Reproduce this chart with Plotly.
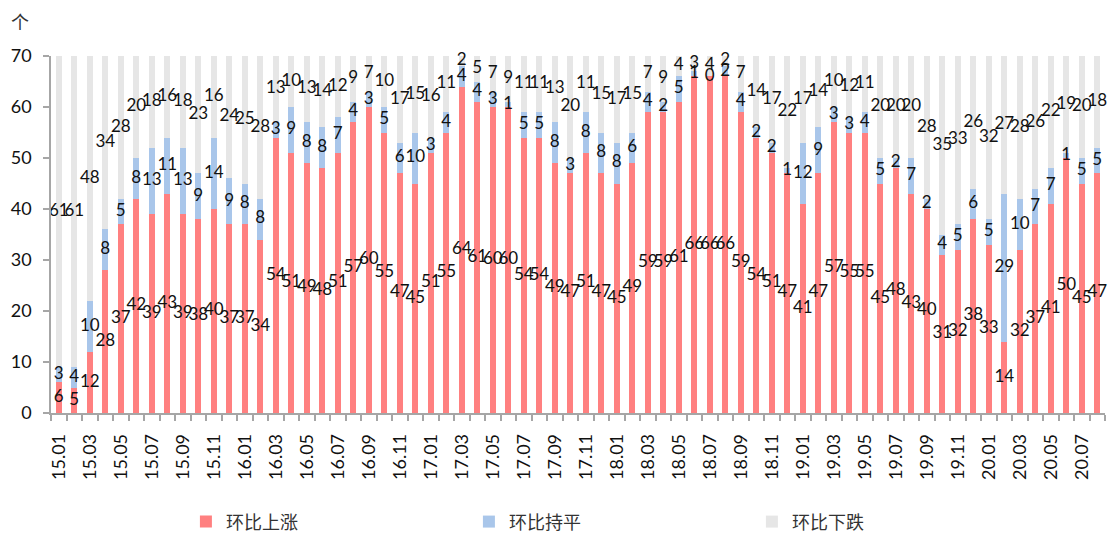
import numpy as np
import plotly.graph_objects as go

months = [f"{y}.{m:02d}" for y in range(15, 21) for m in range(1, 13)][:68]

up = [6, 5, 12, 28, 37, 42, 39, 43, 39, 38, 40, 37,
      37, 34, 54, 51, 49, 48, 51, 57, 60, 55, 47, 45,
      51, 55, 64, 61, 60, 60, 54, 54, 49, 47, 51, 47,
      45, 49, 59, 59, 61, 66, 66, 66, 59, 54, 51, 47,
      41, 47, 57, 55, 55, 45, 48, 43, 40, 31, 32, 38,
      33, 14, 32, 37, 41, 50, 45, 47]
flat = [3, 4, 10, 8, 5, 8, 13, 11, 13, 9, 14, 9,
        8, 8, 3, 9, 8, 8, 7, 4, 3, 5, 6, 10,
        3, 4, 4, 4, 3, 1, 5, 5, 8, 3, 8, 8,
        8, 6, 4, 2, 5, 1, 0, 2, 4, 2, 2, 1,
        12, 9, 3, 3, 4, 5, 2, 7, 2, 4, 5, 6,
        5, 29, 10, 7, 7, 1, 5, 5]
down = [61, 61, 48, 34, 28, 20, 18, 16, 18, 23, 16, 24,
        25, 28, 13, 10, 13, 14, 12, 9, 7, 10, 17, 15,
        16, 11, 2, 5, 7, 9, 11, 11, 13, 20, 11, 15,
        17, 15, 7, 9, 4, 3, 4, 2, 7, 14, 17, 22,
        17, 14, 10, 12, 11, 20, 20, 20, 28, 35, 33, 26,
        32, 27, 28, 26, 22, 19, 20, 18]

series_names = ["环比上涨", "环比持平", "环比下跌"]
colors = ["#FF8080", "#A9C6EA", "#E6E6E6"]

x = np.arange(len(months))
vals = [np.array(up), np.array(flat), np.array(down)]

font_family = "Lato, Noto Sans CJK SC, sans-serif"
fig = go.Figure()
for name, v, c in zip(series_names, vals, colors):
    fig.add_trace(go.Bar(x=x, y=v, name=name, marker=dict(color=c, line=dict(width=0)),
                         hoverinfo="skip"))

base = np.zeros(len(months))
for v in vals:
    mid = base + v / 2
    fig.add_trace(go.Scatter(x=x, y=mid, mode="text", text=[str(i) for i in v],
                             textposition="middle center",
                             textfont=dict(size=17, color="#111111", family=font_family),
                             showlegend=False, hoverinfo="skip", cliponaxis=False))
    base = base + v

fig.update_layout(
    barmode="stack",
    bargap=0.6,
    width=1109, height=533,
    margin=dict(l=51, r=4, t=56, b=120, autoexpand=False),
    plot_bgcolor="white", paper_bgcolor="white",
    font=dict(family=font_family, size=18, color="#222222"),
    legend=dict(orientation="h", x=0.128, xanchor="left", y=-0.305, yanchor="middle",
                font=dict(size=18, color="#333333"), entrywidth=238, traceorder="normal",
                itemwidth=30, bgcolor="rgba(0,0,0,0)"),
    annotations=[dict(text="个", xref="paper", yref="paper", x=-0.04, y=1.059,
                      xanchor="left", yanchor="bottom", showarrow=False,
                      font=dict(size=18, color="#333333"))],
)
fig.update_xaxes(
    range=[-0.5, len(months) - 0.5],
    tickmode="array", tickvals=x[::2], ticktext=months[::2],
    tickangle=-90, ticks="", showgrid=False, zeroline=False,
    showline=True, linecolor="#A6A6A6", linewidth=1.5,
    tickfont=dict(size=18, color="#111111"),
    ticklabelstandoff=12, automargin=False,
    minor=dict(ticks="outside", tick0=-0.5, dtick=1, ticklen=6, tickcolor="#A6A6A6",
               tickwidth=1.5, showgrid=False),
)
fig.update_yaxes(
    range=[0, 70], dtick=10, ticks="outside", ticklen=6, tickcolor="#A6A6A6", tickwidth=1.5,
    showgrid=False, zeroline=False, showline=True, linecolor="#A6A6A6", linewidth=1.5,
    tickfont=dict(size=18, color="#111111"), ticklabelstandoff=8, automargin=False,
)

fig.write_html("out.html", config={"displayModeBar": False},
               post_script="document.body.style.margin='0';")
